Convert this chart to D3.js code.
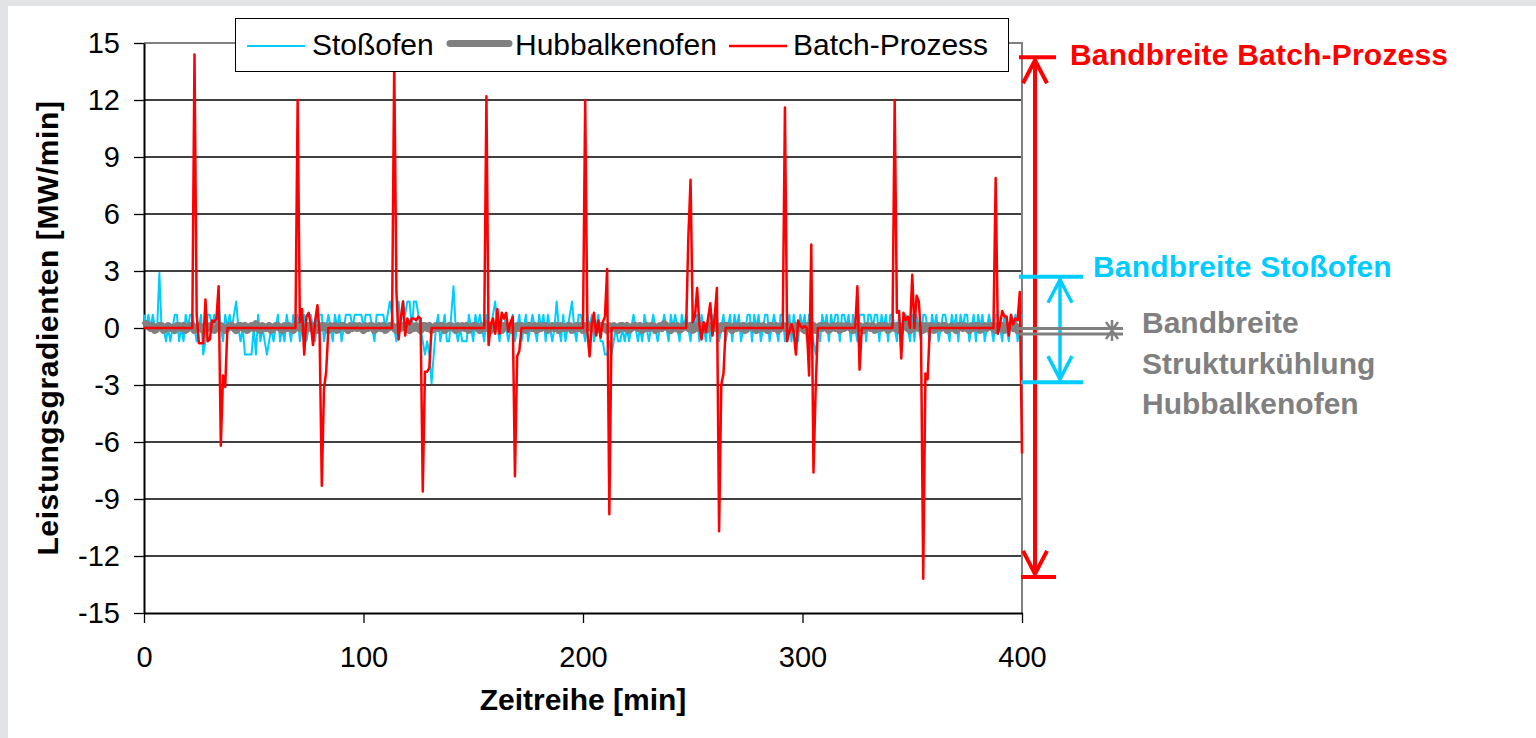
<!DOCTYPE html>
<html>
<head>
<meta charset="utf-8">
<script src="https://cdn.jsdelivr.net/npm/d3@7"></script>
<style>
    html, body { margin: 0; padding: 0; background: #e2e3e5; }
    svg { display: block; }
    text { font-family: "Liberation Sans", Arial, sans-serif; }
</style>
</head>
<body>
<svg id="chart" width="1536" height="738"></svg>
<script>
// series names, ticks and values (one value per minute, 0..400)
const seriesNames = ["Stoßofen", "Hubbalkenofen", "Batch-Prozess"];
const xTicks = [0, 100, 200, 300, 400];
const yTicks = [-15, -12, -9, -6, -3, 0, 3, 6, 9, 12, 15];

const stossofen = [
    0.7, 0, 0.7, 0, 0.7, 0, 0, 2.9, 0, 0, -0.7, 0, -0.7, 0, 0.7, 0.7, -0.7, 0, -0.7, 0.7,
    0, 0.7, 0.7, 0, -0.7, 0, 0.7, -1.4, -0.7, 0.7, 0.7, 0, 0.7, 0, 1.4, 0, -0.7, 0.7, 0, 0.7,
    0, 0.7, 1.4, 0, -0.7, 0, -1.4, -1.4, -1.4, -1.4, 0, -1.4, 0.7, -0.7, 0, -0.7, -1.4, -0.7, 0, -0.7,
    0, 0.7, -0.7, 0, -0.7, 0.7, 0, -0.7, 0.7, 0, 0.7, -0.7, 0, 0.7, -0.7, 0, 0.7, 0, -0.7, 0.7,
    0.7, 0.7, -0.7, 0, 0.7, 0, -0.7, 0.7, 0, 0.7, -0.7, 0, 0.7, 0.7, 0.7, 0, 0.7, 0.7, 0.7, 0.7,
    0, 0.7, 0.7, 0.7, 0, -0.7, 0.7, 0.7, 0.7, 0.7, 0, 0.7, 1.4, 0.7, 0, -0.7, 1.4, 0, 1.4, 0.7,
    1.4, 1.4, 0, 1.4, 1.4, 0.7, 0, -0.7, -1.4, -0.7, -1.4, -2.9, -1.4, 0, 0.7, -0.7, 0, 0.7, -0.7, -0.7,
    0.7, 2.2, 0, -0.7, 0, -0.7, -0.7, -0.7, 0.7, 0, -0.7, 0.7, 0, 0.7, 0, -0.7, 0.7, -0.7, 0, 0.7,
    1.4, 0, -0.7, 0.7, 0.7, 0, -0.7, 0, 0.7, -0.7, 0, 0.7, -0.7, 0, 0.7, -0.7, 0, 0.7, 0, -0.7,
    0.7, 0, 0.7, -0.7, 0.7, 0, -0.7, 0, 1.4, 0, -0.7, 0.7, -0.7, 0, 0.7, 1.4, 0, -0.7, 0.7, 0.7,
    0, -0.7, 0.7, 0, 0.7, -0.7, 0, 0.7, -0.7, -0.7, -1.4, -1.4, -0.7, -1.4, -0.7, 0, -0.7, -0.7, 0, -0.7,
    0, -0.7, 0, 0.7, 0, -0.7, 0, -0.7, 0.7, 0, -0.7, 0, 0.7, 0, -0.7, 0, 0, 0.7, 0, -0.7,
    0.7, 0, 0.7, 0, -0.7, 0.7, 0, 0.7, 0, -0.7, 0.7, 0, 0.7, -0.7, 0.7, 0, -0.7, 0.7, -0.7, 0.7,
    0, 0.7, -0.7, 0, 0.7, -0.7, 0, 0.7, -0.7, 0.7, 0, 0.7, -0.7, 0, 0, 0.7, 0.7, -0.7, 0.7, 0,
    0.7, -0.7, 0, 0.7, 0.7, -0.7, 0, 0.7, 0, -0.7, 0.7, 0.7, -0.7, 0, 0.7, -0.7, 0.7, 0, -0.7, 0.7,
    0, 0.7, -0.7, 0.7, 0, -0.7, -1.4, 0, -0.7, 0.7, 0, 0.7, -0.7, 0.7, 0, 0.7, 0.7, -0.7, 0.7, 0.7,
    0, 0.7, -0.7, 0.7, 0, -0.7, 0.7, 0.7, 0.7, -0.7, 0.7, 0.7, 0, 0.7, 0.7, -0.7, 0.7, 0, 0.7, -0.7,
    0.7, 0.7, 0, -0.7, 0.7, -0.7, 0, 0.7, 0, -0.7, 0.7, -0.7, 0.7, 0, -0.7, 0.7, 0.7, 0, -0.7, 0.7,
    0, 0.7, -0.7, 0, 0.7, 0.7, 0, -0.7, 0.7, 0, 0.7, -0.7, 0.7, 0, 0.7, 0.7, -0.7, 0, 0.7, -0.7,
    0.7, 0, 0.7, -0.7, 0, 0.7, 0, -0.7, 0.7, 0.7, 0, -0.7, 0.7, 0, -0.7, 0.7, 0, 0.7, -0.7, 0,
    0.7
];

const hubbalkenofen = [
    0.1, 0.2, 0.1, 0, 0.1, -0.1, 0, 0.1, 0.1, -0.1, 0, 0.1, 0, 0, -0.1, 0.1, 0.1, 0, 0.1, -0.1,
    0, 0.1, 0.1, -0.1, 0, 0.1, 0, -0.1, 0.1, 0, 0.1, 0, -0.1, 0, 0.1, 0.1, 0, -0.1, 0, 0.1,
    0.1, 0, -0.1, 0.1, 0.1, 0, 0.1, -0.1, 0, 0.1, 0, 0.2, 0, -0.1, 0.1, 0, 0, 0.1, -0.1, 0,
    0.1, 0.1, 0, -0.1, 0.1, 0, 0.1, 0, -0.1, 0.1, 0.1, 0, 0.1, -0.1, 0, 0.1, 0, 0.1, 0, -0.1,
    0, 0.1, 0.1, 0, -0.1, 0.1, 0, 0.1, -0.1, 0, 0.1, 0.1, 0, -0.1, 0.1, 0, 0.1, 0, 0.1, 0,
    -0.1, 0.1, 0, 0.1, 0.1, -0.1, 0, 0.1, 0, 0.1, -0.1, 0, 0.1, 0.1, 0, -0.1, 0.1, 0, 0.1, 0.1,
    0, -0.1, 0.1, 0, 0.1, 0, -0.1, 0.1, 0.1, 0, 0.1, -0.1, 0, 0.1, 0, 0.1, 0.1, -0.1, 0, 0.1,
    0.1, 0, -0.1, 0.1, 0, 0.1, 0, 0.1, -0.1, 0, 0.1, 0.1, 0, -0.1, 0.1, 0, 0.2, 0, -0.1, 0.1,
    0, 0.1, 0, -0.1, 0.1, 0.1, 0, 0.1, -0.1, 0, 0.1, 0, 0.1, 0, -0.1, 0.1, 0.1, 0, 0.1, -0.1,
    0.1, 0, 0.1, 0.1, -0.1, 0, 0.1, 0, 0.1, -0.1, 0.1, 0, 0, 0.1, 0.1, -0.1, 0, 0.1, 0, 0.1,
    -0.1, 0.1, 0, 0.1, 0, 0.1, -0.1, 0, 0.1, 0.1, 0, -0.1, 0.1, 0, 0.1, 0, -0.1, 0.1, 0.1, 0,
    0.1, -0.1, 0, 0.1, 0.1, 0, 0.1, -0.1, 0, 0.1, 0, 0.1, 0.1, -0.1, 0, 0.1, 0, 0.2, 0.1, 0,
    -0.1, 0.1, 0, 0.1, -0.1, 0, 0.1, 0.1, 0, 0.1, -0.1, 0, 0.1, 0, 0.1, 0.1, -0.1, 0, 0.1, 0,
    0.1, 0, -0.1, 0.1, 0, 0.1, 0.1, 0, -0.1, 0.1, 0, 0.1, 0, 0.1, -0.1, 0, 0.1, 0.1, 0, -0.1,
    0.1, 0, 0.1, 0, -0.1, 0.1, 0.1, 0, 0.1, -0.1, 0, 0.1, 0, 0.1, 0.1, -0.1, 0, 0.1, 0, 0.1,
    0, -0.1, 0.1, 0.1, 0, 0.1, -0.1, 0, 0.1, 0, 0.1, 0.1, -0.1, 0, 0.1, 0, 0.1, -0.1, 0.1, 0,
    0.1, 0.1, 0, -0.1, 0.1, 0, 0.1, 0, -0.1, 0.1, 0.1, 0, 0.1, -0.1, 0, 0.1, 0, 0.1, 0.1, -0.1,
    0, 0.1, 0, 0.1, -0.1, 0, 0.1, 0.1, 0, -0.1, 0.1, 0, 0.1, 0, 0.1, -0.1, 0.1, 0, 0.1, 0.1,
    -0.1, 0, 0.1, 0, 0.1, 0.1, -0.1, 0, 0.1, 0, -0.1, 0.1, 0.1, 0, 0.1, 0, -0.1, 0.1, 0, 0.1,
    0.1, -0.1, 0, 0.1, 0, 0.1, 0.1, 0, -0.1, 0.1, 0, 0.1, -0.1, 0, 0.1, 0.1, 0, 0.1, -0.1, 0,
    0.1
];

const batchProzess = [
    0, 0, 0, 0, 0, 0, 0, 0, 0, 0, 0, 0, 0, 0, 0, 0, 0, 0, 0, 0,
    0, 0, 0, 14.4, 0.7, -0.8, -0.8, -0.8, 1.5, -0.7, -0.6, 0.4, 0.3, 0.5, 2.2, -6.2, -2.5, -3.1, 0, 0,
    0, 0, 0, 0, 0, 0, 0, 0, 0, 0, 0, 0, 0, 0, 0, 0, 0, 0, 0, 0,
    0, 0, 0, 0, 0, 0, 0, 0, 0, 0, 12.0, 0.3, 1.0, -1.4, 0.6, 0.8, 0.2, -0.9, 0.4, 1.2,
    -0.3, -8.3, -3.2, -2.3, 0, 0, 0, 0, 0, 0, 0, 0, 0, 0, 0, 0, 0, 0, 0, 0,
    0, 0, 0, 0, 0, 0, 0, 0, 0, 0, 0, 0, 0, 0, 14.0, 1.9, -0.6, 0.5, 1.4, -0.4,
    0.5, 0.2, 0.5, 0.5, 0.4, 0.6, 0.5, -8.6, -2.3, -2.3, -2.1, 0, 0, 0, 0, 0, 0, 0, 0, 0,
    0, 0, 0, 0, 0, 0, 0, 0, 0, 0, 0, 0, 0, 0, 0, 0, 12.2, -0.9, 0.2, 0.5,
    -0.3, 1.0, -0.3, 0.8, 0.5, 0.8, -0.2, 0.3, 0.6, -7.8, -1.5, -1.2, 0, 0, 0, 0, 0, 0, 0, 0,
    0, 0, 0, 0, 0, 0, 0, 0, 0, 0, 0, 0, 0, 0, 0, 0, 0, 0, 0, 0,
    0, 12.0, -0.2, -1.5, 0.2, 0.8, -0.4, 0.4, -0.5, 0.3, 0.6, 3.1, -9.8, 0, 0, 0, 0, 0, 0, 0,
    0, 0, 0, 0, 0, 0, 0, 0, 0, 0, 0, 0, 0, 0, 0, 0, 0, 0, 0, 0,
    0, 0, 0, 0, 0, 0, 0, 0, 4.8, 7.8, 0.3, 0.6, 2.1, 0.2, -0.6, 0.3, -0.2, 0.5, 1.3, -0.4,
    0.6, 2.1, -10.7, -3.0, -2.4, 0, 0, 0, 0, 0, 0, 0, 0, 0, 0, 0, 0, 0, 0, 0,
    0, 0, 0, 0, 0, 0, 0, 0, 0, 0, 0, 0, 11.6, -0.7, -0.2, 0.2, -0.2, -1.4, 0.4, 0.1,
    0, 0.1, 0, -2.5, 4.4, -7.6, -3.2, 0, 0, 0, 0, 0, 0, 0, 0, 0, 0, 0, 0, 0,
    0, 0, 0, 0, 0, 2.2, -2.2, 0, 0, 0, 0, 0, 0, 0, 0, 0, 0, 0, 0, 0,
    0, 0, 12.0, 0.8, 0.9, -1.6, 0.8, 0.4, 0.6, 0, 2.8, 0, 1.7, 1.4, -0.5, -13.2, -2.4, -2.7, 0, 0,
    0, 0, 0, 0, 0, 0, 0, 0, 0, 0, 0, 0, 0, 0, 0, 0, 0, 0, 0, 0,
    0, 0, 0, 0, 0, 0, 0, 0, 7.9, -0.3, 0.2, 0.9, 0.6, 0.6, -0.4, 0.7, 0.2, 0.5, 0.4, 1.9,
    -6.6
];

// band annotations (values on the y scale)
const bandBatch = [14.25, -13.1];
const bandStoss = [2.7, -2.85];
const bandHub = [0.0, -0.3];

const colors = ["#00ccff", "#808080", "#ff0000"];
const widths = [2, 8, 2.5];

let svg = d3.select("#chart");

// white panel
svg.append("rect")
    .attr("x", 8).attr("y", 6)
    .attr("width", 1528).attr("height", 732)
    .attr("fill", "#ffffff");

let xScale = d3.scaleLinear().domain([0, 400]).range([144, 1022]);
let yScale = d3.scaleLinear().domain([-15, 15]).range([613, 43]);

// grid lines
svg.append("g").selectAll("line")
    .data(yTicks.filter(d => d > -15 && d < 15))
    .enter().append("line")
    .attr("x1", xScale(0)).attr("x2", xScale(400))
    .attr("y1", d => yScale(d)).attr("y2", d => yScale(d))
    .attr("stroke", "#000").attr("stroke-width", 1.3);

// plot frame top / right (gray)
svg.append("path")
    .attr("d", "M" + xScale(0) + "," + yScale(15) + "H" + xScale(400) + "V" + yScale(-15))
    .attr("fill", "none").attr("stroke", "#808080").attr("stroke-width", 2);

// axes
let yAxis = svg.append("g")
    .attr("transform", "translate(" + xScale(0) + ",0)")
    .call(d3.axisLeft(yScale).tickValues(yTicks).tickSize(10).tickSizeOuter(0)
        .tickPadding(14).tickFormat(d => String(d)));

let xAxis = svg.append("g")
    .attr("transform", "translate(0," + yScale(-15) + ")")
    .call(d3.axisBottom(xScale).tickValues(xTicks).tickSize(10).tickSizeOuter(0)
        .tickPadding(23).tickFormat(d => String(d)));

[xAxis, yAxis].forEach(ax => {
    ax.attr("font-family", null).attr("font-size", null);
    ax.select(".domain").attr("stroke", "#000").attr("stroke-width", 2);
    ax.selectAll(".tick line").attr("stroke", "#000").attr("stroke-width", 1.3);
    ax.selectAll(".tick text").attr("fill", "#000").style("font-size", "29px");
});

// series lines
let line = d3.line()
    .x((d, i) => xScale(i))
    .y(d => yScale(d));

[stossofen, hubbalkenofen, batchProzess].forEach((s, k) => {
    svg.append("path")
        .datum(s)
        .attr("d", line)
        .attr("fill", "none")
        .attr("stroke", colors[k])
        .attr("stroke-width", widths[k])
        .attr("stroke-linejoin", "round");
});

// axis titles
svg.append("text")
    .attr("x", 583).attr("y", 710)
    .attr("text-anchor", "middle")
    .style("font-size", "30px").style("font-weight", "bold")
    .text("Zeitreihe [min]");

svg.append("text")
    .attr("transform", "translate(58," + yScale(0) + ") rotate(-90)")
    .attr("text-anchor", "middle")
    .style("font-size", "30px").style("font-weight", "bold")
    .style("letter-spacing", "0.6px")
    .text("Leistungsgradienten [MW/min]");

// legend
let legend = svg.append("g");
legend.append("rect")
    .attr("x", 235.5).attr("y", 18.5).attr("width", 773).attr("height", 53)
    .attr("fill", "#fff").attr("stroke", "#000").attr("stroke-width", 1);

let legendX = [247, 450, 729];
let legendLen = [58, 59, 58];
let legendY = [46, 43.5, 46];
let legendW = [2, 7, 2.5];
let legendTextX = [312, 515, 793];
seriesNames.forEach((n, k) => {
    legend.append("line")
        .attr("x1", legendX[k]).attr("x2", legendX[k] + legendLen[k])
        .attr("y1", legendY[k]).attr("y2", legendY[k])
        .attr("stroke", colors[k]).attr("stroke-width", legendW[k])
        .attr("stroke-linecap", k === 1 ? "round" : "butt");
    legend.append("text")
        .attr("x", legendTextX[k]).attr("y", 55)
        .style("font-size", "30px")
        .text(n);
});

// band annotations
function band(g, color, x, x1, x2, vals, sw) {
    let yt = yScale(vals[0]), yb = yScale(vals[1]);
    g.append("line").attr("x1", x1).attr("x2", x2).attr("y1", yt).attr("y2", yt)
        .attr("stroke", color).attr("stroke-width", 4);
    g.append("line").attr("x1", x1 + 2).attr("x2", x2).attr("y1", yb).attr("y2", yb)
        .attr("stroke", color).attr("stroke-width", 4);
    g.append("line").attr("x1", x).attr("x2", x).attr("y1", yt + 3).attr("y2", yb - 3)
        .attr("stroke", color).attr("stroke-width", sw);
    g.append("path")
        .attr("d", "M" + (x - 12) + "," + (yt + 26) + "L" + x + "," + (yt + 3) + "L" + (x + 12) + "," + (yt + 26)
            + "M" + (x - 12) + "," + (yb - 26) + "L" + x + "," + (yb - 3) + "L" + (x + 12) + "," + (yb - 26))
        .attr("fill", "none").attr("stroke", color).attr("stroke-width", sw)
        .attr("stroke-linejoin", "miter");
}

let ann = svg.append("g");
band(ann, "#ff0000", 1035, 1019, 1056, bandBatch, 4);
band(ann, "#00ccff", 1060, 1019, 1083, bandStoss, 3.5);

// gray (tiny) band for Hubbalkenofen
let yh1 = yScale(bandHub[0]) + 0.5, yh2 = yScale(bandHub[1]) + 0.3;
ann.append("line").attr("x1", 1018).attr("x2", 1123).attr("y1", yh1).attr("y2", yh1)
    .attr("stroke", "#808080").attr("stroke-width", 3);
ann.append("line").attr("x1", 1018).attr("x2", 1123).attr("y1", yh2).attr("y2", yh2)
    .attr("stroke", "#808080").attr("stroke-width", 3);
ann.append("path")
    .attr("d", "M1112,320V341M1106,322L1118,339M1118,322L1106,339")
    .attr("stroke", "#808080").attr("stroke-width", 2.5).attr("fill", "none");

ann.append("text")
    .attr("x", 1070).attr("y", 65)
    .attr("fill", "#ff0000")
    .style("font-size", "30px").style("font-weight", "bold")
    .style("letter-spacing", "0.2px")
    .text("Bandbreite Batch-Prozess");

ann.append("text")
    .attr("x", 1093).attr("y", 277)
    .attr("fill", "#00ccff")
    .style("font-size", "30px").style("font-weight", "bold")
    .style("letter-spacing", "0.2px")
    .text("Bandbreite Stoßofen");

["Bandbreite", "Strukturkühlung", "Hubbalkenofen"].forEach((t, i) => {
    ann.append("text")
        .attr("x", 1142).attr("y", 333 + i * 40.7)
        .attr("fill", "#808080")
        .style("font-size", "30px").style("font-weight", "bold")
        .text(t);
});
</script>
</body>
</html>
